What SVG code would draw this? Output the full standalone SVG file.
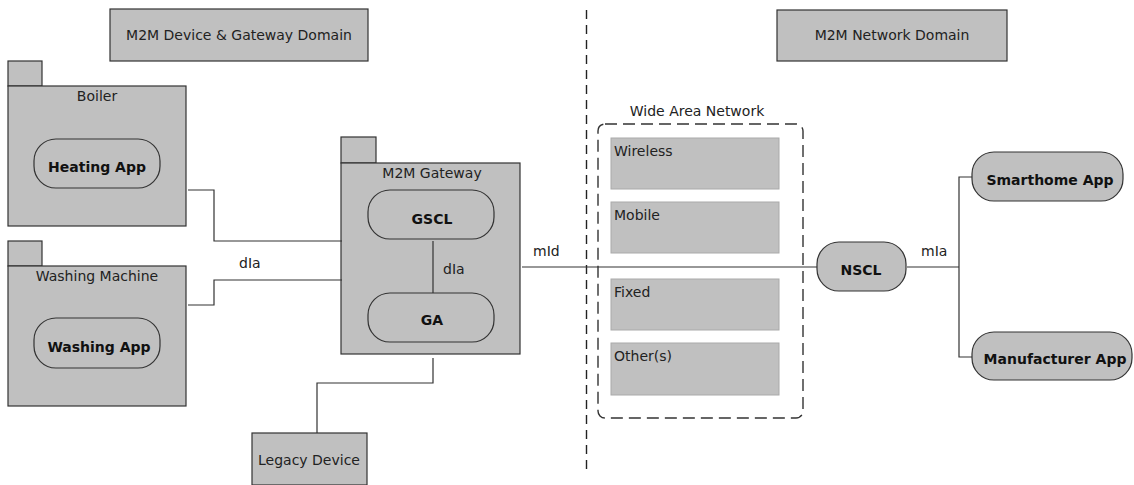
<svg xmlns="http://www.w3.org/2000/svg" width="1134" height="485" viewBox="0 0 1134 485">
<style>
.box{fill:#c0c0c0;stroke:#333;stroke-width:1.2}
.net{fill:#c0c0c0;stroke:#aaa;stroke-width:1}
.ln{fill:none;stroke:#333;stroke-width:1.2}
.dash{fill:none;stroke:#333;stroke-width:1.4;stroke-dasharray:12 6}
.vdash{fill:none;stroke:#222;stroke-width:1.4;stroke-dasharray:9 6}
text{font-family:"DejaVu Sans",sans-serif;font-size:14px;fill:#222}
.c{text-anchor:middle}
.b{font-weight:bold;font-size:14px;fill:#111}
</style>
<rect width="1134" height="485" fill="#fff"/>
<line class="vdash" x1="586.5" y1="10" x2="586.5" y2="472"/>
<g id="domain-dg"><rect class="box" x="110" y="9" width="258" height="52"/><text class="c" x="239" y="40">M2M Device &amp; Gateway Domain</text></g>
<g id="domain-net"><rect class="box" x="777" y="10" width="230" height="51"/><text class="c" x="892" y="40">M2M Network Domain</text></g>
<g id="boiler"><rect class="box" x="8" y="61" width="34" height="25"/><rect class="box" x="8" y="86" width="178" height="140"/><text class="c" x="97" y="101">Boiler</text>
<rect class="box" x="34" y="139" width="126" height="49" rx="22"/><text class="c b" x="97" y="172">Heating App</text></g>
<g id="washing"><rect class="box" x="8" y="241" width="34" height="25"/><rect class="box" x="8" y="266" width="178" height="140"/><text class="c" x="97" y="281">Washing Machine</text>
<rect class="box" x="34" y="318" width="126" height="50" rx="22"/><text class="c b" x="99" y="352">Washing App</text></g>
<g id="gateway"><rect class="box" x="341" y="137" width="35" height="26"/><rect class="box" x="341" y="163" width="179" height="191"/><text class="c" x="432" y="178">M2M Gateway</text></g>
<g id="gscl"><rect class="box" x="368" y="190" width="126" height="49" rx="22"/><text class="c b" x="432" y="224">GSCL</text></g>
<g id="ga"><rect class="box" x="368" y="293" width="126" height="49" rx="22"/><text class="c b" x="432" y="325">GA</text></g>
<g id="legacy"><rect class="box" x="252" y="433" width="115" height="52"/><text class="c" x="309" y="465">Legacy Device</text></g>
<g id="wan"><text class="c" x="697" y="116">Wide Area Network</text>
<rect class="dash" x="598" y="124" width="205" height="294" rx="7"/>
<rect class="net" x="611" y="138" width="168" height="51"/><text x="614" y="156">Wireless</text>
<rect class="net" x="611" y="202" width="168" height="51"/><text x="614" y="220">Mobile</text>
<rect class="net" x="611" y="279" width="168" height="51"/><text x="614" y="297">Fixed</text>
<rect class="net" x="611" y="343" width="168" height="52"/><text x="614" y="361">Other(s)</text></g>
<g id="nscl"><rect class="box" x="817" y="242" width="89" height="49" rx="22"/><text class="c b" x="861" y="275">NSCL</text></g>
<g id="smarthome"><rect class="box" x="972" y="152" width="151" height="49" rx="22"/><text class="c b" x="1050" y="185">Smarthome App</text></g>
<g id="manufacturer"><rect class="box" x="972" y="332" width="160" height="48" rx="22"/><text class="c b" x="1055" y="364">Manufacturer App</text></g>
<g id="connectors">
<polyline class="ln" points="188,190 214,190 214,241 342,241"/>
<polyline class="ln" points="188,305 214,305 214,280 342,280"/>
<line class="ln" x1="433" y1="241" x2="433" y2="293"/>
<polyline class="ln" points="433,358 433,383 317,383 317,433"/>
<line class="ln" x1="522" y1="267" x2="817" y2="267"/>
<line class="ln" x1="907" y1="267" x2="959" y2="267"/>
<polyline class="ln" points="972,177 959,177 959,357 972,357"/>
<text x="239" y="268">dIa</text>
<text x="443" y="274">dIa</text>
<text x="533" y="256">mId</text>
<text x="921" y="256">mIa</text>
</g>
</svg>
